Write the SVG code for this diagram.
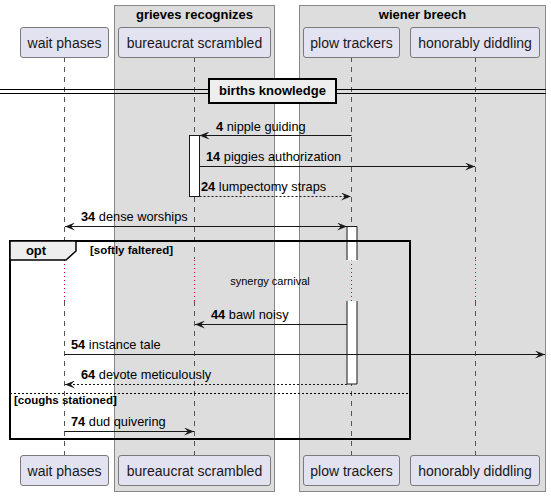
<svg xmlns="http://www.w3.org/2000/svg" width="551" height="496" viewBox="0 0 551 496">
<style>
text{font-family:"Liberation Sans",Arial,sans-serif;fill:#000}
.grp{fill:#DDDDDD;stroke:#888888;stroke-width:1}
.gt{font-size:13px;font-weight:bold;text-anchor:middle}
.part{fill:#E2E2F0;stroke:#7a7a7a;stroke-width:1}
.pt{font-size:14px;text-anchor:middle;fill:#181818}
.life{stroke:#555;stroke-width:1;stroke-dasharray:5,5;fill:none}
.delay{stroke:#C0003A;stroke-width:1;stroke-dasharray:1,3;fill:none}
.msg{stroke:#181818;stroke-width:1;fill:none}
.dash{stroke-dasharray:2,2}
.mt{font-size:12.8px}
.num{font-weight:bold}
.act{fill:#FFFFFF;stroke:none}
.actb{fill:none;stroke:#181818;stroke-width:1}
.frame{fill:none;stroke:#000;stroke-width:2}
.ft{font-size:11.5px;font-weight:bold}
</style>
<defs>
<marker id="ah" viewBox="0 0 10 8" refX="10" refY="4" markerWidth="10" markerHeight="8" markerUnits="userSpaceOnUse" orient="auto-start-reverse">
<path d="M0,0 L10,4 L0,8 L4,4 Z" fill="#181818"/>
</marker>
</defs>

<g id="group-grieves">
<rect class="grp" x="114.5" y="5.5" width="160" height="486"/>
<text class="gt" x="194.5" y="19">grieves recognizes</text>
</g>
<g id="group-wiener">
<rect class="grp" x="299.5" y="5.5" width="246" height="486"/>
<text class="gt" x="422.5" y="19">wiener breech</text>
</g>

<g id="lifelines">
<path class="life" d="M64.5,57 V259 M64.5,301 V455"/>
<path class="delay" d="M64.5,260 V301"/>
<path class="life" d="M194.5,57 V259 M194.5,301 V455"/>
<path class="delay" d="M194.5,260 V301"/>
<path class="life" d="M351.5,57 V259 M351.5,301 V455"/>
<path class="delay" d="M351.5,260 V301"/>
<path class="life" d="M475.5,57 V259 M475.5,301 V455"/>
<path class="delay" d="M475.5,260 V301"/>
</g>

<g id="divider">
<path d="M0,89.5 H546 M0,93.5 H546" stroke="#000" stroke-width="1.2" fill="none"/>
<rect x="209" y="79" width="127" height="24" fill="#EEEEEE" stroke="#000" stroke-width="2"/>
<text x="272.5" y="95" font-size="13" font-weight="bold" text-anchor="middle">births knowledge</text>
</g>

<g id="activations">
<rect class="act" x="189.5" y="135.5" width="10" height="61"/>
<rect class="actb" x="189.5" y="135.5" width="10" height="61"/>
<rect class="act" x="347" y="226.5" width="10" height="34"/>
<path class="actb" d="M347,260 V226.5 H357 V260"/>
<rect class="act" x="347" y="301" width="10" height="83"/>
<path class="actb" d="M347,301 V384 H357 V301"/>
</g>

<g id="frame-opt">
<rect class="frame" x="10" y="241" width="400" height="198"/>
<path d="M10,241 H76 V251 L66,260 H10 Z" fill="#EEEEEE" stroke="#000" stroke-width="1.5"/>
<text x="36" y="255" font-size="13" font-weight="bold" text-anchor="middle">opt</text>
<text class="ft" x="90" y="254">[softly faltered]</text>
<path d="M10,393.5 H410" stroke="#000" stroke-width="1" stroke-dasharray="2,2"/>
<text class="ft" x="14" y="404">[coughs stationed]</text>
</g>

<g id="delay-label">
<text x="270" y="285" font-size="11" text-anchor="middle">synergy carnival</text>
</g>

<g id="connectors">
<line class="msg" x1="351.5" y1="135.5" x2="199.5" y2="135.5" marker-end="url(#ah)"/>
<text class="mt" x="216" y="131"><tspan class="num">4</tspan> nipple guiding</text>

<line class="msg" x1="199.5" y1="166.5" x2="475" y2="166.5" marker-end="url(#ah)"/>
<text class="mt" x="206" y="161"><tspan class="num">14</tspan> piggies authorization</text>

<line class="msg dash" x1="199.5" y1="196.5" x2="351" y2="196.5" marker-end="url(#ah)"/>
<text class="mt" x="201" y="191"><tspan class="num">24</tspan> lumpectomy straps</text>

<line class="msg" x1="65" y1="226.5" x2="347" y2="226.5" marker-start="url(#ah)" marker-end="url(#ah)"/>
<text class="mt" x="81" y="221"><tspan class="num">34</tspan> dense worships</text>

<line class="msg" x1="347" y1="324.5" x2="195" y2="324.5" marker-end="url(#ah)"/>
<text class="mt" x="211" y="319"><tspan class="num">44</tspan> bawl noisy</text>

<line class="msg" x1="64.5" y1="354.5" x2="545" y2="354.5" marker-end="url(#ah)"/>
<text class="mt" x="71" y="349"><tspan class="num">54</tspan> instance tale</text>

<line class="msg dash" x1="347" y1="384.5" x2="65" y2="384.5" marker-end="url(#ah)"/>
<text class="mt" x="81" y="379"><tspan class="num">64</tspan> devote meticulously</text>

<line class="msg" x1="64.5" y1="431.5" x2="194" y2="431.5" marker-end="url(#ah)"/>
<text class="mt" x="71" y="426"><tspan class="num">74</tspan> dud quivering</text>
</g>

<g id="p-wait">
<rect class="part" x="20.5" y="27.5" width="88" height="30" rx="2.5"/>
<text class="pt" x="64.5" y="47.5">wait phases</text>
<rect class="part" x="20.5" y="455.5" width="88" height="30" rx="2.5"/>
<text class="pt" x="64.5" y="475.5">wait phases</text>
</g>
<g id="p-bureaucrat">
<rect class="part" x="118.5" y="27.5" width="152" height="30" rx="2.5"/>
<text class="pt" x="194.5" y="47.5">bureaucrat scrambled</text>
<rect class="part" x="118.5" y="455.5" width="152" height="30" rx="2.5"/>
<text class="pt" x="194.5" y="475.5">bureaucrat scrambled</text>
</g>
<g id="p-plow">
<rect class="part" x="303.5" y="27.5" width="96" height="30" rx="2.5"/>
<text class="pt" x="351.5" y="47.5">plow trackers</text>
<rect class="part" x="303.5" y="455.5" width="96" height="30" rx="2.5"/>
<text class="pt" x="351.5" y="475.5">plow trackers</text>
</g>
<g id="p-honorably">
<rect class="part" x="410.5" y="27.5" width="129" height="30" rx="2.5"/>
<text class="pt" x="475" y="47.5">honorably diddling</text>
<rect class="part" x="410.5" y="455.5" width="129" height="30" rx="2.5"/>
<text class="pt" x="475" y="475.5">honorably diddling</text>
</g>
</svg>
